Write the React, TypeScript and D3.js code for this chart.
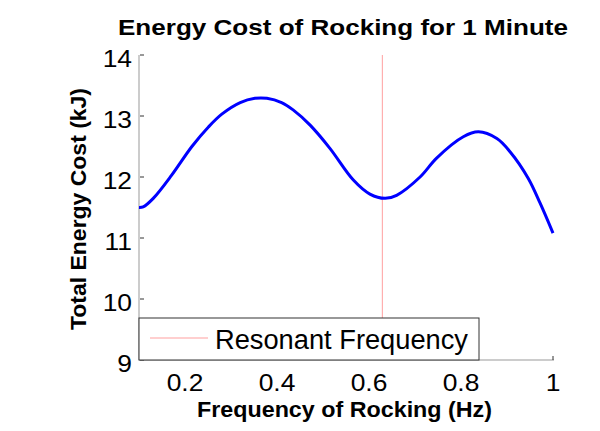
import React from "react";
import * as d3 from "d3";

const freq = [0.1, 0.109, 0.131, 0.171, 0.215, 0.251, 0.28, 0.32, 0.352, 0.378, 0.41, 0.435, 0.472, 0.515, 0.566, 0.602, 0.635, 0.66, 0.711, 0.747, 0.805, 0.838, 0.878, 0.907, 0.946, 0.972, 1.0];
const cost = [11.5, 11.51, 11.65, 12.03, 12.5, 12.82, 13.03, 13.22, 13.29, 13.29, 13.22, 13.1, 12.85, 12.47, 11.95, 11.72, 11.65, 11.7, 12.0, 12.31, 12.66, 12.74, 12.63, 12.41, 11.98, 11.57, 11.08];
const resonantFreq = 0.629;
const xTicks = [0.2, 0.4, 0.6, 0.8, 1];
const xTickLabels = ["0.2", "0.4", "0.6", "0.8", "1"];
const yTicks = [9, 10, 11, 12, 13, 14];
const yTickLabels = ["9", "10", "11", "12", "13", "14"];
const title = "Energy Cost of Rocking for 1 Minute";
const xLabel = "Frequency of Rocking (Hz)";
const yLabel = "Total Energy Cost (kJ)";
const legendLabel = "Resonant Frequency";

const W = 600;
const H = 431;
const FONT = "'Liberation Sans', Arial, sans-serif";
const SX = 1.1;

export default function App() {
  const x = d3.scaleLinear().domain([0.1, 1]).range([139, 553]);
  const y = d3.scaleLinear().domain([9, 14]).range([360, 55]);
  const pts: [number, number][] = freq.map((f, i) => [f, cost[i]]);
  const line = d3
    .line<[number, number]>()
    .x((d) => x(d[0]))
    .y((d) => y(d[1]))
    .curve(d3.curveCatmullRom.alpha(0.5));

  const legX = 139, legY = 318, legW = 340, legH = 42;

  return (
    <svg width={W} height={H} style={{ position: "absolute", left: 0, top: 0, background: "#fff" }} fontFamily={FONT}>
      <rect x={0} y={0} width={W} height={H} fill="#fff" />
      {/* title */}
      <text x={343} y={35} textAnchor="middle" fontSize={22} fontWeight="bold" textLength={450} lengthAdjust="spacingAndGlyphs">
        {title}
      </text>
      {/* axes */}
      <line x1={139} x2={139} y1={y(14)} y2={y(9)} stroke="#999" strokeWidth={1} />
      <line x1={139} x2={x(1) + 1} y1={y(9)} y2={y(9)} stroke="#999" strokeWidth={1} />
      {yTicks.map((t, i) => (
        <g key={"yt" + i}>
          <line x1={140} x2={144} y1={y(t)} y2={y(t)} stroke="#333" strokeWidth={1} />
          <text transform={`translate(132,${y(t) + 11.5}) scale(${SX},1)`} textAnchor="end" fontSize={24}>
            {yTickLabels[i]}
          </text>
        </g>
      ))}
      {xTicks.map((t, i) => (
        <g key={"xt" + i}>
          <line x1={x(t)} x2={x(t)} y1={y(9)} y2={y(9) - 4} stroke="#333" strokeWidth={1} />
          <text transform={`translate(${x(t)},${390.5}) scale(${SX},1)`} textAnchor="middle" fontSize={24}>
            {xTickLabels[i]}
          </text>
        </g>
      ))}
      {/* resonant line */}
      <line x1={x(resonantFreq)} x2={x(resonantFreq)} y1={y(14)} y2={y(9)} stroke="#ff9f9f" strokeWidth={1} />
      {/* curve */}
      <path d={line(pts) || ""} fill="none" stroke="#0000ff" strokeWidth={3} strokeLinejoin="round" />
      {/* legend */}
      <rect x={legX} y={legY} width={legW} height={legH} fill="#fff" stroke="#333" strokeWidth={1} />
      <line x1={150} x2={208} y1={338} y2={338} stroke="#ff9f9f" strokeWidth={1} />
      <text x={215} y={349} fontSize={27} textLength={253} lengthAdjust="spacingAndGlyphs">
        {legendLabel}
      </text>
      {/* labels */}
      <text x={344.5} y={417} textAnchor="middle" fontSize={22} fontWeight="bold" textLength={295} lengthAdjust="spacingAndGlyphs">
        {xLabel}
      </text>
      <text transform={`translate(86,209) rotate(-90)`} textAnchor="middle" fontSize={22} fontWeight="bold" textLength={242} lengthAdjust="spacingAndGlyphs">
        {yLabel}
      </text>
    </svg>
  );
}
